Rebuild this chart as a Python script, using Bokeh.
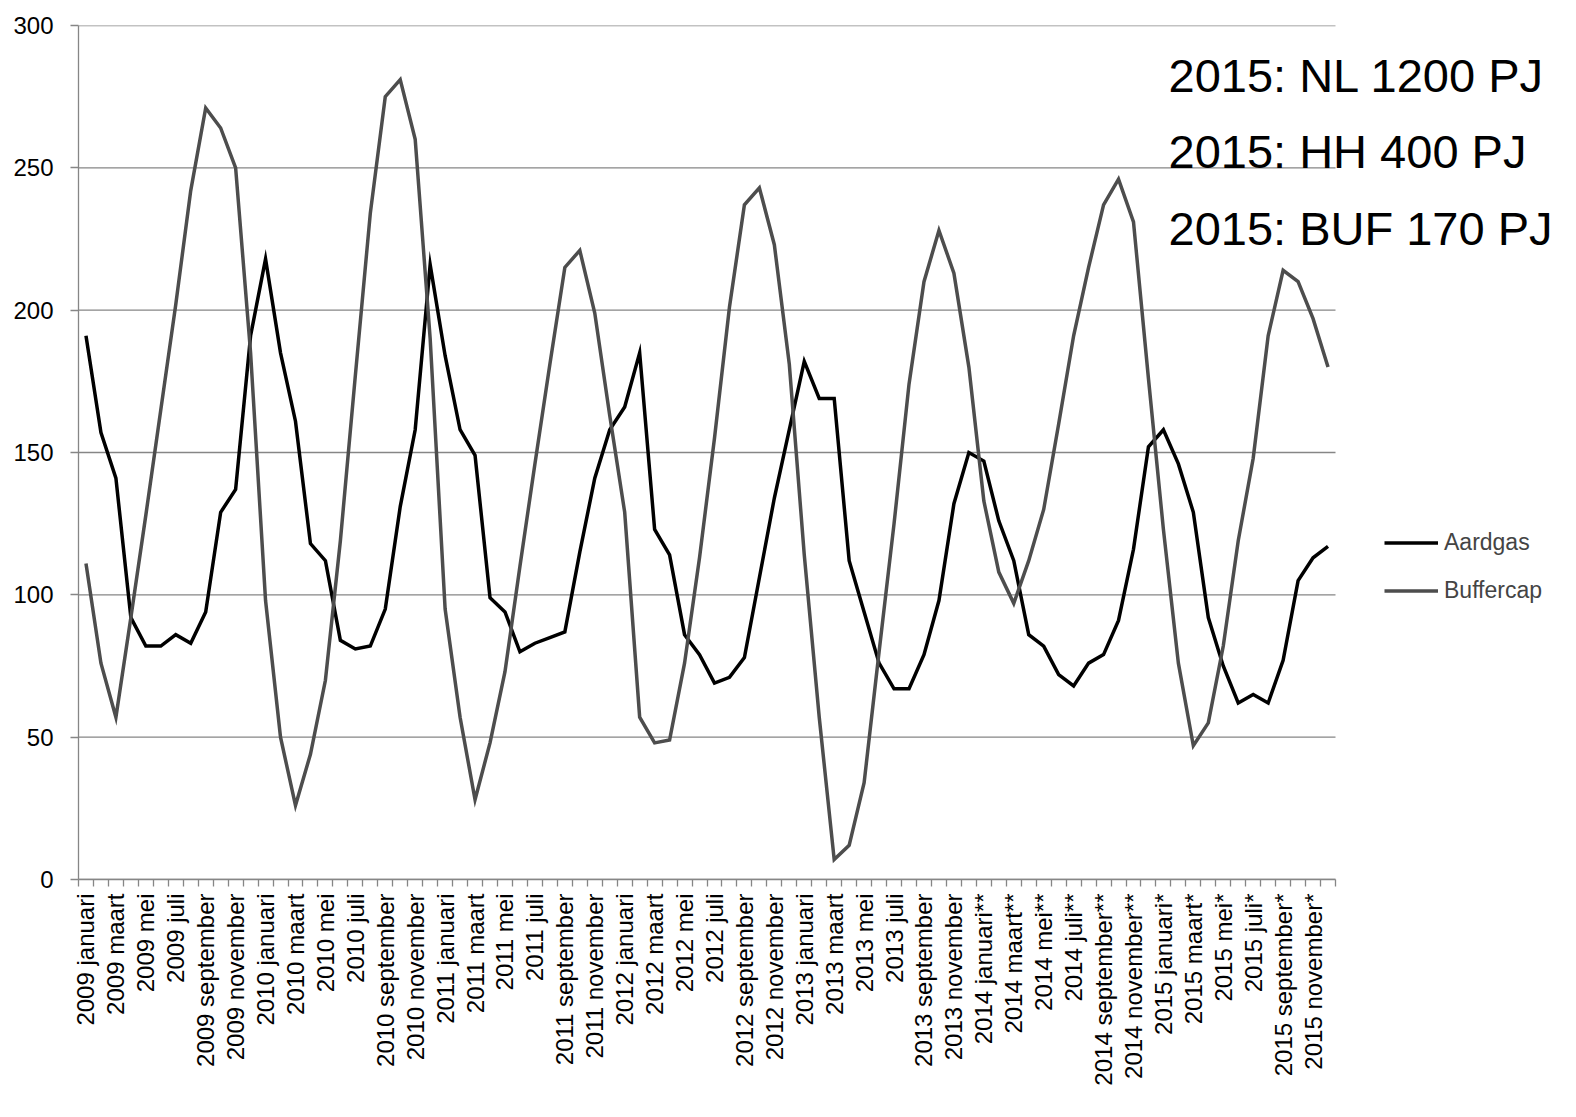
import math
from bokeh.plotting import figure
from bokeh.models import Range1d, FixedTicker, Legend, LegendItem, Label
from bokeh.embed import file_html
from bokeh.resources import INLINE

years = [2009, 2010, 2011, 2012, 2013, 2014, 2015]
months = ["januari", "februari", "maart", "april", "mei", "juni", "juli",
          "augustus", "september", "oktober", "november", "december"]
suffix = {2014: "**", 2015: "*"}
categories = [f"{y} {m}{suffix.get(y, '')}" for y in years for m in months]

aardgas = [191, 157, 141, 92, 82, 82, 86, 83, 94, 129, 137, 191,
           218, 185, 161, 118, 112, 84, 81, 82, 95, 131, 158, 216,
           184, 158, 149, 99, 94, 80, 83, 85, 87, 115, 141, 158,
           166, 185, 123, 114, 86, 79, 69, 71, 78, 106, 134, 158,
           182, 169, 169, 112, 94, 76, 67, 67, 79, 98, 132, 150,
           147, 126, 112, 86, 82, 72, 68, 76, 79, 91, 116, 152,
           158, 146, 129, 92, 75, 62, 65, 62, 77, 105, 113, 117]

buffercap = [111, 76, 57, 92, 128, 165, 202, 242, 271, 264, 250, 185,
             98, 50, 26, 44, 70, 119, 177, 234, 275, 281, 260, 190,
             95, 57, 28, 48, 73, 110, 146, 181, 215, 221, 199, 163,
             129, 57, 48, 49, 76, 113, 155, 201, 237, 243, 223, 181,
             114, 57, 7, 12, 34, 80, 125, 174, 210, 228, 213, 180,
             133, 108, 97, 112, 130, 160, 191, 215, 237, 246, 231, 176,
             123, 76, 47, 55, 82, 119, 148, 191, 214, 210, 197, 180]

y_ticks = [0, 50, 100, 150, 200, 250, 300]
notes = ["2015: NL 1200 PJ", "2015: HH 400 PJ", "2015: BUF 170 PJ"]
note_y = [282.4, 255.7, 228.7]
series_names = ["Aardgas", "Buffercap"]

FONT = "Liberation Sans"
GRID = "#868686"

n = len(categories)
xs = list(range(n))

W, H = 1560, 1100
LEFT, TOP, FRAME_H = 78, 25, 854
CAT_W = 1257 / n
frame_w = W - LEFT
x_end = -0.5 + frame_w / CAT_W

p = figure(width=W, height=H, output_backend="svg", toolbar_location=None,
           x_range=Range1d(-0.5, x_end), y_range=Range1d(0, 300),
           min_border_left=LEFT, min_border_top=TOP, min_border_right=0,
           min_border_bottom=H - TOP - FRAME_H)
p.outline_line_color = None
p.background_fill_color = "white"
p.border_fill_color = "white"

# grid (limited to the category span)
p.xgrid.grid_line_color = None
p.ygrid.grid_line_color = None
p.segment(x0=[-0.5] * len(y_ticks), x1=[n - 0.5] * len(y_ticks), y0=y_ticks, y1=y_ticks,
          line_color=GRID, line_width=1.3, level="underlay")

# y axis
p.yaxis.ticker = FixedTicker(ticks=y_ticks)
p.yaxis.axis_line_color = GRID
p.yaxis.axis_line_width = 1.3
p.yaxis.major_tick_line_color = GRID
p.yaxis.major_tick_line_width = 1.3
p.yaxis.major_tick_out = 8
p.yaxis.major_tick_in = 0
p.yaxis.minor_tick_line_color = None
p.yaxis.major_label_text_font = FONT
p.yaxis.major_label_text_font_size = "24px"
p.yaxis.major_label_text_color = "black"
p.yaxis.major_label_standoff = 17

# x axis
even = list(range(0, n, 2))
p.xaxis.bounds = (-0.5, n - 0.5)
p.xaxis.ticker = FixedTicker(ticks=even, minor_ticks=[k - 0.5 for k in range(n + 1)])
p.xaxis.major_label_overrides = {k: categories[k] for k in even}
p.xaxis.major_label_orientation = math.pi / 2
p.xaxis.major_label_text_font = FONT
p.xaxis.major_label_text_font_size = "24px"
p.xaxis.major_label_text_color = "black"
p.xaxis.major_label_standoff = 7
p.xaxis.major_tick_line_color = None
p.xaxis.minor_tick_line_color = GRID
p.xaxis.minor_tick_line_width = 1.3
p.xaxis.minor_tick_out = 7
p.xaxis.minor_tick_in = 0
p.xaxis.axis_line_color = GRID
p.xaxis.axis_line_width = 1.3

r1 = p.line(xs, aardgas, line_color="black", line_width=3.5, line_join="miter")
r2 = p.line(xs, buffercap, line_color="#4d4d4d", line_width=3.5, line_join="miter")

legend = Legend(items=[LegendItem(label=series_names[0], renderers=[r1]),
                       LegendItem(label=series_names[1], renderers=[r2])],
                location=(1306, 275), padding=0, margin=0, spacing=21,
                glyph_width=54, glyph_height=23, label_standoff=6,
                label_text_font=FONT, label_text_font_size="23px",
                background_fill_alpha=0, border_line_color=None)
p.add_layout(legend, "center")

for t, yv in zip(notes, note_y):
    p.add_layout(Label(x=72.34, y=yv, text=t, text_font=FONT,
                       text_font_size="47px", text_color="black",
                       text_baseline="alphabetic", text_align="left"))

open("out.html", "w").write(file_html(p, INLINE))
